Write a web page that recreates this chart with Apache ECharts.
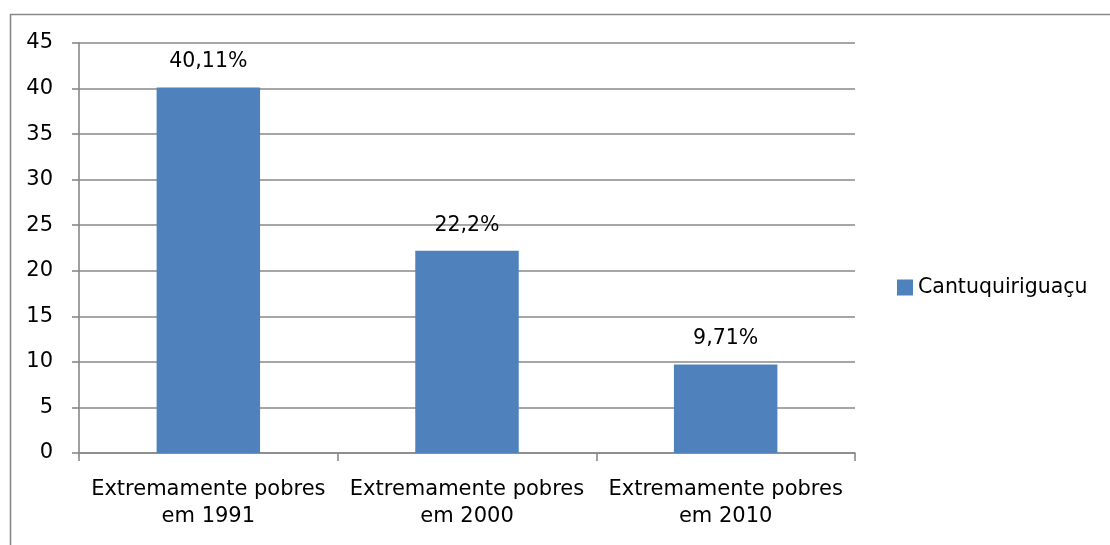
<!DOCTYPE html>
<html>
<head>
<meta charset="utf-8">
<script src="https://cdn.jsdelivr.net/npm/echarts@6/dist/echarts.min.js"></script>
<style>
  html, body { margin: 0; padding: 0; background: #fff; }
  #chart { width: 1110px; height: 545px; }
</style>
</head>
<body>
<div id="chart"></div>
<script>
// Share of extremely poor population, Cantuquiriguaçu region
const categories = ['Extremamente pobres\nem 1991', 'Extremamente pobres\nem 2000', 'Extremamente pobres\nem 2010'];
const seriesName = 'Cantuquiriguaçu';
const values = [40.11, 22.2, 9.71];
const valueLabels = ['40,11%', '22,2%', '9,71%'];

const FONT = '"DejaVu Sans"';
const LINE = '#888888';
const chart = echarts.init(document.getElementById('chart'), null, { renderer: 'canvas' });

chart.setOption({
  animation: false,
  backgroundColor: '#fff',
  textStyle: { fontFamily: FONT, color: '#000' },
  graphic: [{
    type: 'rect',
    shape: { x: 10.5, y: 14.5, width: 1200, height: 700 },
    style: { fill: 'none', stroke: LINE, lineWidth: 1.6 },
    silent: true
  }],
  legend: {
    orient: 'vertical',
    left: 892,
    top: 272,
    data: [seriesName],
    icon: 'rect',
    itemWidth: 16,
    itemHeight: 16,
    itemGap: 6,
    textStyle: { fontFamily: FONT, fontSize: 20.5, color: '#000' }
  },
  grid: { left: 79, right: 255, top: 43, bottom: 92, containLabel: false },
  xAxis: {
    type: 'category',
    data: categories,
    axisLine: { lineStyle: { color: LINE, width: 1.6 } },
    axisTick: { show: true, length: 8, alignWithLabel: false, lineStyle: { color: LINE, width: 1.6 } },
    axisLabel: { margin: 23, fontFamily: FONT, fontSize: 21, color: '#000', lineHeight: 27, interval: 0 },
    splitLine: { show: false }
  },
  yAxis: {
    type: 'value',
    min: 0,
    max: 45,
    interval: 5,
    axisLine: { show: true, lineStyle: { color: LINE, width: 1.6 } },
    axisTick: { show: true, length: 7, inside: false, lineStyle: { color: LINE, width: 1.6 } },
    axisLabel: { margin: 26, fontFamily: FONT, fontSize: 21, color: '#000', padding: [6, 0, 0, 0] },
    splitLine: { show: true, lineStyle: { color: LINE, width: 1.6 } }
  },
  series: [{
    name: seriesName,
    type: 'bar',
    data: values,
    barWidth: '40%',
    itemStyle: { color: '#4F81BD' },
    label: {
      show: true,
      position: 'top',
      distance: 15,
      fontFamily: FONT,
      fontSize: 20.5,
      color: '#000',
      formatter: p => valueLabels[p.dataIndex]
    }
  }]
});
</script>
</body>
</html>
